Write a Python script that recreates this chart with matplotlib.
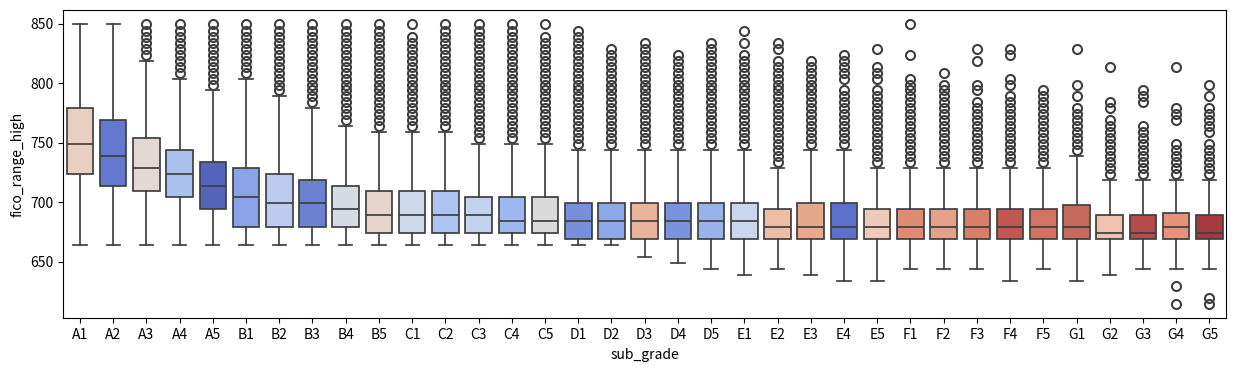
import matplotlib
matplotlib.use("Agg")
import matplotlib.pyplot as plt

plt.rcParams['font.family'] = ['Noto Sans CJK KR', 'DejaVu Sans']

# sub_grade categories (x order)
sub_grades = ["A1", "A2", "A3", "A4", "A5", "B1", "B2", "B3", "B4", "B5",
              "C1", "C2", "C3", "C4", "C5", "D1", "D2", "D3", "D4", "D5",
              "E1", "E2", "E3", "E4", "E5", "F1", "F2", "F3", "F4", "F5",
              "G1", "G2", "G3", "G4", "G5"]

# box statistics of fico_range_high
q1 = [724, 714, 709, 704, 694, 679, 679, 679, 679, 674,
      674, 674, 674, 674, 674, 669, 669, 669, 669, 669,
      669, 669, 669, 669, 669, 669, 669, 669, 669, 669,
      669, 669, 669, 669, 669]
med = [749, 739, 729, 724, 714, 704, 699, 699, 694, 689,
       689, 689, 689, 684, 684, 684, 684, 684, 684, 684,
       684, 679, 679, 679, 679, 679, 679, 679, 679, 679,
       679, 674, 674, 679, 674]
q3 = [779, 769, 754, 744, 734, 729, 724, 719, 714, 709,
      709, 709, 704, 704, 704, 699, 699, 699, 699, 699,
      699, 694, 699, 699, 694, 694, 694, 694, 694, 694,
      698, 689, 689, 691, 689]
whislo = [664, 664, 664, 664, 664, 664, 664, 664, 664, 664,
          664, 664, 664, 664, 664, 664, 664, 654, 649, 644,
          639, 644, 639, 634, 634, 644, 644, 644, 634, 644,
          634, 639, 644, 644, 644]
whishi = [850, 850, 819, 804, 794, 804, 789, 779, 764, 759,
          759, 759, 749, 749, 749, 744, 744, 744, 744, 744,
          744, 729, 744, 744, 729, 729, 729, 729, 729, 729,
          739, 719, 719, 719, 719]

# outliers per sub_grade
fliers = [
    [],
    [],
    [824, 829, 834, 839, 844, 850],
    [809, 814, 819, 824, 829, 834, 839, 844, 850],
    [799, 804, 809, 814, 819, 824, 829, 834, 839, 844, 850],
    [809, 814, 819, 824, 829, 834, 839, 844, 850],
    [794, 799, 804, 809, 814, 819, 824, 829, 834, 839, 844, 850],
    [784, 789, 794, 799, 804, 809, 814, 819, 824, 829, 834, 839, 844, 850],
    [769, 774, 779, 784, 789, 794, 799, 804, 809, 814, 819, 824, 829, 834,
     839, 844, 850],
    [764, 769, 774, 779, 784, 789, 794, 799, 804, 809, 814, 819, 824, 829,
     834, 839, 844, 850],
    [764, 769, 774, 779, 784, 789, 794, 799, 804, 809, 814, 819, 824, 829,
     834, 839, 850],
    [764, 769, 774, 779, 784, 789, 794, 799, 804, 809, 814, 819, 824, 829,
     834, 839, 844, 850],
    [754, 759, 764, 769, 774, 779, 784, 789, 794, 799, 804, 809, 814, 819,
     824, 829, 834, 839, 844, 850],
    [754, 759, 764, 769, 774, 779, 784, 789, 794, 799, 804, 809, 814, 819,
     824, 829, 834, 839, 844, 850],
    [754, 759, 764, 769, 774, 779, 784, 789, 794, 799, 804, 809, 814, 819,
     824, 829, 834, 839, 850],
    [749, 754, 759, 764, 769, 774, 779, 784, 789, 794, 799, 804, 809, 814,
     819, 824, 829, 834, 839, 844],
    [749, 754, 759, 764, 769, 774, 779, 784, 789, 794, 799, 804, 809, 814,
     819, 824, 829],
    [749, 754, 759, 764, 769, 774, 779, 784, 789, 794, 799, 804, 809, 814,
     819, 824, 829, 834],
    [749, 754, 759, 764, 769, 774, 779, 784, 789, 794, 799, 804, 809, 814,
     819, 824],
    [749, 754, 759, 764, 769, 774, 779, 784, 789, 794, 799, 804, 809, 814,
     819, 824, 829, 834],
    [749, 754, 759, 764, 769, 774, 779, 784, 789, 794, 799, 804, 809, 814,
     819, 824, 834, 844],
    [734, 739, 744, 749, 754, 759, 764, 769, 774, 779, 784, 789, 794, 799,
     804, 809, 814, 819, 829, 834],
    [749, 754, 759, 764, 769, 774, 779, 784, 789, 794, 799, 804, 809, 814,
     819],
    [749, 754, 759, 764, 769, 774, 779, 784, 789, 794, 804, 809, 814, 819,
     824],
    [734, 739, 744, 749, 754, 759, 764, 769, 774, 779, 784, 789, 794, 804,
     809, 814, 829],
    [734, 739, 744, 749, 754, 759, 764, 769, 774, 779, 784, 789, 794, 799,
     804, 824, 850],
    [734, 739, 744, 749, 754, 759, 764, 769, 774, 779, 784, 789, 794, 799,
     809],
    [734, 739, 744, 749, 754, 759, 764, 769, 774, 779, 784, 794, 799, 819,
     829],
    [734, 739, 744, 749, 754, 759, 764, 769, 774, 779, 784, 789, 799, 804,
     824, 829],
    [734, 739, 744, 749, 754, 759, 764, 769, 774, 779, 784, 789, 794],
    [744, 749, 754, 759, 764, 769, 774, 779, 789, 799, 829],
    [724, 729, 734, 739, 744, 749, 754, 759, 764, 769, 779, 784, 814],
    [724, 729, 734, 739, 744, 749, 754, 759, 764, 784, 789, 794],
    [614, 629, 724, 729, 734, 739, 744, 749, 769, 774, 779, 814],
    [614, 619, 724, 729, 734, 739, 744, 749, 759, 764, 769, 774, 779, 789,
     799],
]

box_colors = ["#e8cfc3", "#6378cf", "#e2d9d5", "#a9c1ef", "#5465bb",
              "#89a3e6", "#bccbef", "#6b82d3", "#d5dbe2", "#e5d5cc",
              "#cdd8e8", "#adc4f0", "#c4d2ee", "#a0b8f2", "#dadada",
              "#7890d9", "#8ea9e8", "#eab49c", "#7a94dc", "#99b2ec",
              "#c9d6ec", "#edbda5", "#e7a88e", "#5a70c9", "#edcbbb",
              "#df8c75", "#e5a088", "#d97e69", "#c1574f", "#d47363",
              "#c66a5c", "#f0c3b0", "#b64c4a", "#e59479", "#a6393f"]

line_color = "#3f3f3f"

stats = []
for i, g in enumerate(sub_grades):
    stats.append({
        "label": g,
        "q1": q1[i], "med": med[i], "q3": q3[i],
        "whislo": whislo[i], "whishi": whishi[i],
        "fliers": fliers[i],
    })

fig = plt.figure(figsize=(12.35, 3.69), dpi=100)
ax = fig.add_axes([0.0513, 0.1374, 0.9414, 0.8356])

bp = ax.bxp(stats, positions=range(len(sub_grades)), widths=0.8,
            patch_artist=True, capwidths=0.4,
            boxprops=dict(edgecolor=line_color, linewidth=1.25),
            medianprops=dict(color=line_color, linewidth=1.25),
            whiskerprops=dict(color=line_color, linewidth=1.25),
            capprops=dict(color=line_color, linewidth=1.25),
            flierprops=dict(marker="o", markersize=6.5, markerfacecolor="none",
                            markeredgecolor=line_color, markeredgewidth=1.5,
                            linestyle="none"))

for patch, c in zip(bp["boxes"], box_colors):
    patch.set_facecolor(c)

ax.set_xlim(-0.5, len(sub_grades) - 0.5)
ax.set_ylim(602.2, 861.8)
ax.set_yticks([650, 700, 750, 800, 850])
ax.set_xticks(range(len(sub_grades)))
ax.set_xticklabels(sub_grades)
ax.tick_params(labelsize=10)
ax.set_xlabel("sub_grade", fontsize=10)
ax.set_ylabel("fico_range_high", fontsize=10)

fig.savefig("out.png", dpi=100)
